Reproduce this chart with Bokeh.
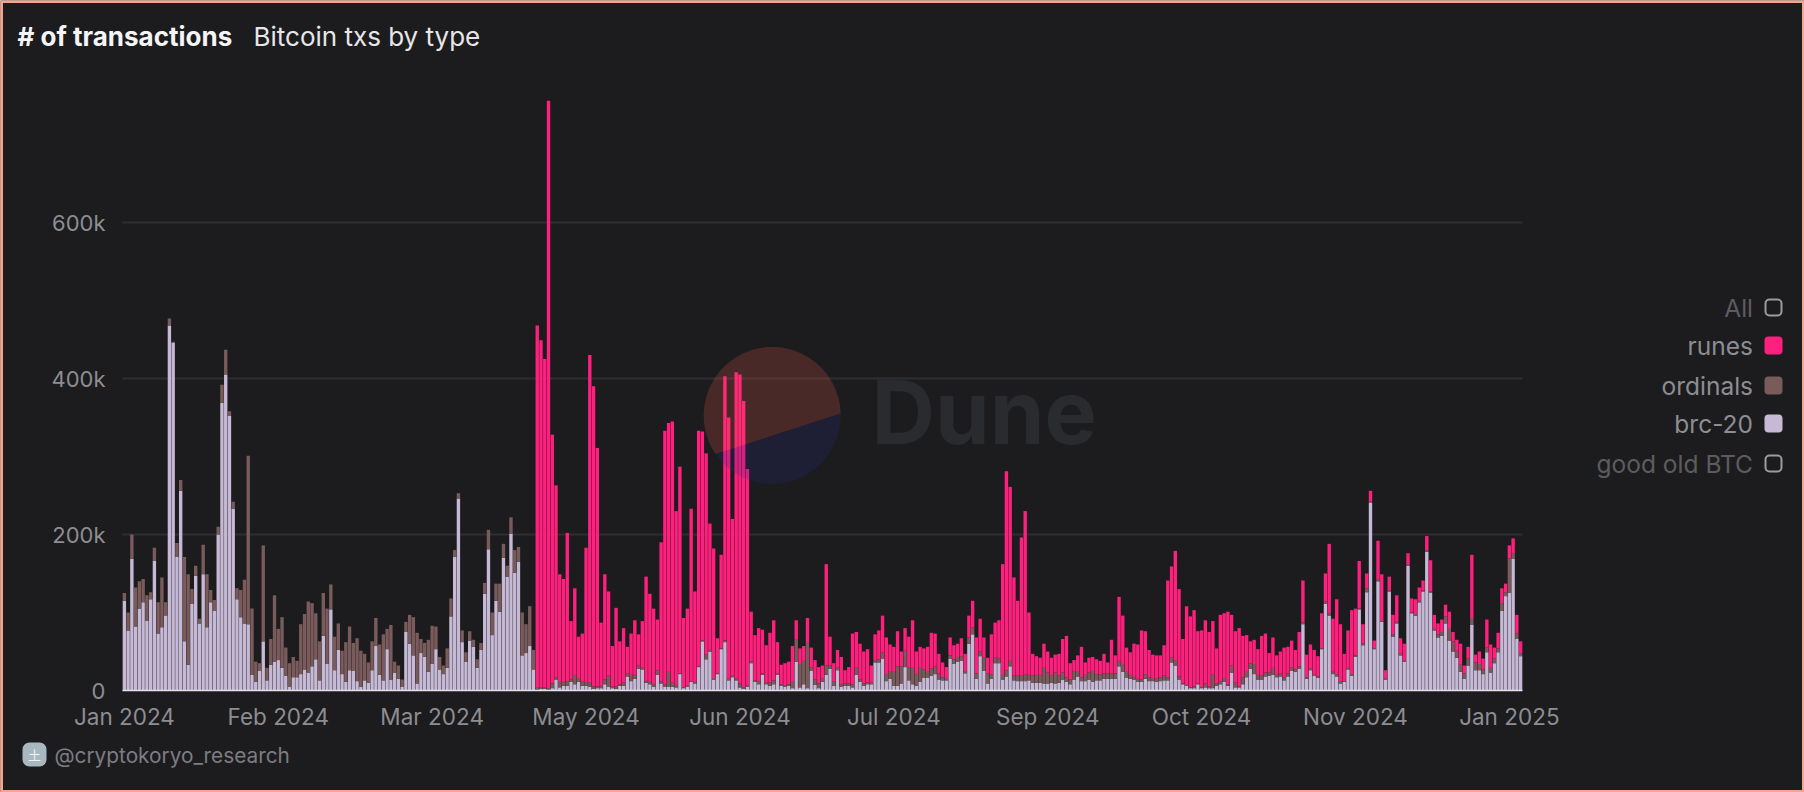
import numpy as np
from bokeh.plotting import figure
from bokeh.models import Label, BoxAnnotation, FixedTicker, Range1d
from bokeh.embed import file_html
from bokeh.resources import INLINE

FONT = "Inter"
TICK_POS = [i * 41 for i in range(10)]
TICK_LABELS = ["Jan 2024", "Feb 2024", "Mar 2024", "May 2024", "Jun 2024",
               "Jul 2024", "Sep 2024", "Oct 2024", "Nov 2024", "Jan 2025"]
Y_TICKS = [200, 400, 600]

# values in thousands of transactions per day
brc20 = [
115,77,169,82,105,113,89,117,166,73,81,96,468,446,171,256,63,33,111,147,86,149,81,113,102,200,369,405,352,233,
117,94,86,85,20,11,25,63,13,33,37,39,29,19,5,17,17,21,27,23,31,40,13,70,34,104,26,52,21,11,
26,25,12,5,13,10,26,57,20,13,53,14,23,15,5,75,60,45,9,48,43,24,34,53,27,21,29,95,171,246,
62,37,64,56,29,52,124,181,71,115,101,170,146,201,151,165,45,48,57,27,
1,2,2,1,3,14,4,6,6,11,8,11,6,6,5,2,3,3,8,5,3,2,6,6,18,12,15,28,27,10,
8,5,20,9,5,5,5,4,21,3,5,11,9,30,63,40,50,14,21,53,62,13,17,13,4,2,5,35,11,8,
20,8,6,8,20,6,5,6,3,37,4,8,3,25,7,3,
11,20,28,6,26,5,6,6,4,20,11,6,8,8,36,36,41,12,15,6,6,9,30,13,8,6,11,16,16,19,
21,14,13,13,41,34,37,38,22,60,72,15,44,25,9,15,35,35,14,18,31,13,12,12,12,13,10,10,10,9,
9,10,9,10,14,11,8,14,18,12,12,14,11,13,13,15,15,15,15,31,24,16,15,14,11,11,15,12,12,11,
12,13,13,36,32,14,8,6,3,3,8,
3,4,3,3,6,8,11,6,23,4,4,8,17,28,21,14,14,18,19,20,17,18,13,18,25,24,28,85,15,26,
19,16,53,111,96,21,18,9,11,27,19,43,104,58,126,241,53,140,88,14,127,69,86,45,37,160,99,96,113,127,
178,125,77,68,70,86,64,50,42,24,15,32,84,26,26,21,49,23,35,49,102,121,125,169,66,44,
]
ordinals = [
10,23,31,50,35,30,33,9,17,40,64,17,9,1,18,14,108,116,19,13,6,38,68,16,14,10,23,32,6,9,
14,35,56,216,85,26,10,123,16,33,85,40,65,36,30,26,21,64,71,91,81,59,50,55,71,32,43,34,30,51,
56,36,55,46,34,26,37,36,39,59,26,70,14,17,9,13,37,49,65,18,18,41,49,29,16,11,25,23,9,7,
15,12,12,9,11,9,14,25,29,22,36,18,14,21,29,19,55,37,51,25,
3,2,2,2,6,3,7,5,6,3,12,5,6,5,5,3,2,3,6,14,2,3,2,4,4,8,5,4,2,2,
3,3,6,3,3,20,5,3,1,1,1,1,2,1,1,6,2,2,1,1,2,2,2,2,5,2,1,2,2,4,
2,2,4,5,2,2,2,2,8,28,30,30,58,5,7,6,
4,12,4,6,4,3,3,3,4,10,3,3,2,2,3,4,8,9,10,19,25,22,21,17,21,15,18,11,9,9,
10,8,4,3,4,6,6,6,3,8,9,7,6,17,13,6,7,6,6,8,7,6,7,7,9,7,9,10,10,20,
14,10,14,9,9,6,6,10,7,5,8,9,14,8,8,7,7,7,7,7,10,9,5,3,4,3,6,5,4,4,
5,6,4,6,7,4,1,1,1,2,1,
1,5,2,18,3,4,5,2,9,6,1,9,8,7,13,6,5,5,4,9,3,4,4,4,5,3,3,2,2,2,
1,2,1,3,3,3,3,3,1,2,2,2,1,2,5,1,1,3,1,1,1,3,2,2,1,1,1,2,2,1,
2,2,2,4,5,9,15,13,9,9,7,9,9,10,8,6,6,6,6,5,10,5,44,7,7,4,
]
# top of each full stack from the first runes day (20 Apr 2024) on
stack_top = [
468,449,425,756,328,263,149,143,202,89,131,69,73,183,430,390,311,87,149,127,57,106,63,80,56,73,90,72,89,146,
124,105,91,190,333,343,345,230,287,93,105,233,127,333,332,304,214,182,67,174,403,350,220,408,405,371,284,101,71,80,
78,58,74,90,62,33,35,37,57,90,54,57,93,55,39,30,
32,162,69,35,52,43,26,30,73,75,60,50,53,32,72,77,96,68,59,56,76,50,80,69,90,50,56,54,56,74,
73,47,36,30,68,58,60,67,47,96,115,68,92,68,42,72,87,90,162,281,261,145,115,196,230,100,47,44,42,60,
50,42,46,47,66,70,35,39,45,56,36,42,43,40,38,47,36,65,45,120,96,55,49,60,59,77,76,52,46,45,
45,58,141,159,179,130,66,108,95,103,76,
77,90,75,89,54,97,99,101,97,76,80,70,71,63,65,53,70,73,48,68,45,50,55,56,64,52,75,141,46,59,
52,44,99,150,188,92,117,85,47,77,103,105,166,85,150,256,64,192,149,26,146,97,122,67,60,176,118,117,132,141,
198,167,97,86,91,110,101,75,65,60,32,56,174,46,50,41,91,59,55,74,131,137,186,195,97,63,
]
n_before = len(brc20) - len(stack_top)
runes = [0] * n_before + [max(t - b - o, 0) for t, b, o in zip(stack_top, brc20[n_before:], ordinals[n_before:])]
days = list(range(len(brc20)))

LEGEND = ["All", "runes", "ordinals", "brc-20", "good old BTC"]
BG = "#1c1c1e"
C_RUNES, C_ORD, C_BRC = "#ff1f7d", "#7a5b5b", "#c6b9d5"

W, H = 1804, 792
FL, FR, FB = 122, 1522, 690   # bar area edges in page pixels
PXX = (FR - FL) / len(days)   # px per day
PXY = 0.78                    # px per thousand

def X(px):
    return (px - FL) / PXX - 0.5
def Y(py):
    return (FB - py) / PXY

p = figure(width=W, height=H, output_backend="svg", toolbar_location=None,
           x_range=Range1d(X(0), X(W)), y_range=Range1d(Y(H), Y(0)),
           min_border_left=0, min_border_right=0, min_border_top=0, min_border_bottom=0,
           background_fill_color=BG, border_fill_color=BG)
p.outline_line_color = None

p.xgrid.grid_line_color = None
p.ygrid.grid_line_color = None
p.segment(x0=[-0.5] * len(Y_TICKS), x1=[len(days) - 0.5] * len(Y_TICKS), y0=Y_TICKS, y1=Y_TICKS,
          line_color="#2e2e31", line_width=2)
p.yaxis.ticker = FixedTicker(ticks=[0] + Y_TICKS)
p.yaxis.major_label_overrides = {0: "0", 200: "200k", 400: "400k", 600: "600k"}
p.xaxis.ticker = FixedTicker(ticks=TICK_POS)
p.xaxis.major_label_overrides = dict(zip(TICK_POS, TICK_LABELS))
for ax in (p.xaxis, p.yaxis):
    ax.major_tick_line_color = None
    ax.minor_tick_line_color = None
    ax.major_label_text_font = FONT
    ax.major_label_text_color = "#8d8d92"
p.xaxis.major_label_text_font_size = "22.5px"
p.yaxis.major_label_text_font_size = "22px"
p.yaxis.axis_line_color = None
p.yaxis.major_label_standoff = 11
p.yaxis.fixed_location = -0.5
p.xaxis.axis_line_color = "#e4e4e6"
p.xaxis.axis_line_width = 1.5
p.xaxis.major_label_standoff = 6
p.xaxis.fixed_location = 0
p.xaxis.bounds = (-0.5, len(days) - 0.5)

W_BAR = 0.9
d = np.array(days)
b = np.array(brc20, float); o = np.array(ordinals, float); r = np.array(runes, float)
p.vbar(x=d, width=W_BAR, bottom=0, top=b, fill_color=C_BRC, line_color=None)
p.vbar(x=d, width=W_BAR, bottom=b, top=b + o, fill_color=C_ORD, line_color=None)
p.vbar(x=d, width=W_BAR, bottom=b + o, top=b + o + r, fill_color=C_RUNES, line_color=None)

# Dune watermark: a disc cut by a chord, drawn over the bars
cx, cy, rad = 771.7, 415, 68.5
a1, a2 = np.radians(1.7), np.radians(214.3)
th = np.linspace(a1, a2, 80)
p.patch(X(cx + rad * np.cos(th)), Y(cy - rad * np.sin(th)), fill_color="#ff5a50", fill_alpha=0.2, line_color=None)
th = np.linspace(a2, a1 + 2 * np.pi, 60)
p.patch(X(cx + rad * np.cos(th)), Y(cy - rad * np.sin(th)), fill_color="#2a2a90", fill_alpha=0.2, line_color=None)

def label(txt, px, py, size, color, align="left", style="normal", base="middle", font=FONT, level="annotation"):
    p.add_layout(Label(x=px, y=py, x_units="canvas", y_units="canvas", text=txt, text_font=font,
                       text_font_size=f"{size}px", text_color=color, text_align=align,
                       text_baseline=base, text_font_style=style, level=level))

label("Dune", 871, 411, 88, "#2a2b2e", style="bold")
label("# of transactions", 17, 36, 26, "#f5f5f7", style="bold")
label("Bitcoin txs by type", 253, 36, 26, "#e6e6e8")
label("@cryptokoryo_research", 54, 755, 20.8, "#7d7d82")

def box(l, r_, t, b_, fill=None, line=None, lw=2, radius=4):
    p.add_layout(BoxAnnotation(left=l, right=r_, top=t, bottom=b_,
                               left_units="canvas", right_units="canvas", top_units="canvas", bottom_units="canvas",
                               fill_color=fill, fill_alpha=1 if fill else 0,
                               line_color=line, line_alpha=1 if line else 0, line_width=lw,
                               border_radius=radius, level="overlay"))

box(22, 46, 742, 766, fill="#a7b8bf", radius=7)
label("土", 34, 754, 13, "#f0f2f4", align="center", font="Noto Sans CJK SC", level="overlay")

rows = [307, 345, 385, 423, 463]
lcolor = ["#5c5c60", "#8d8d92", "#8d8d92", "#8d8d92", "#5c5c60"]
swatch = [None, C_RUNES, C_ORD, C_BRC, None]
for name, y_, c, s in zip(LEGEND, rows, lcolor, swatch):
    label(name, 1752.5, y_, 24.5, c, align="right")
    if s:
        box(1764, 1782, y_ - 9, y_ + 9, fill=s)
    else:
        box(1765, 1781, y_ - 8, y_ + 8, line="#9c9c9e")

# frame of the card
box(1, 1803, 1, 791, line="#f7a48e", lw=3, radius=0)

open("out.html", "w").write(file_html(p, INLINE))
